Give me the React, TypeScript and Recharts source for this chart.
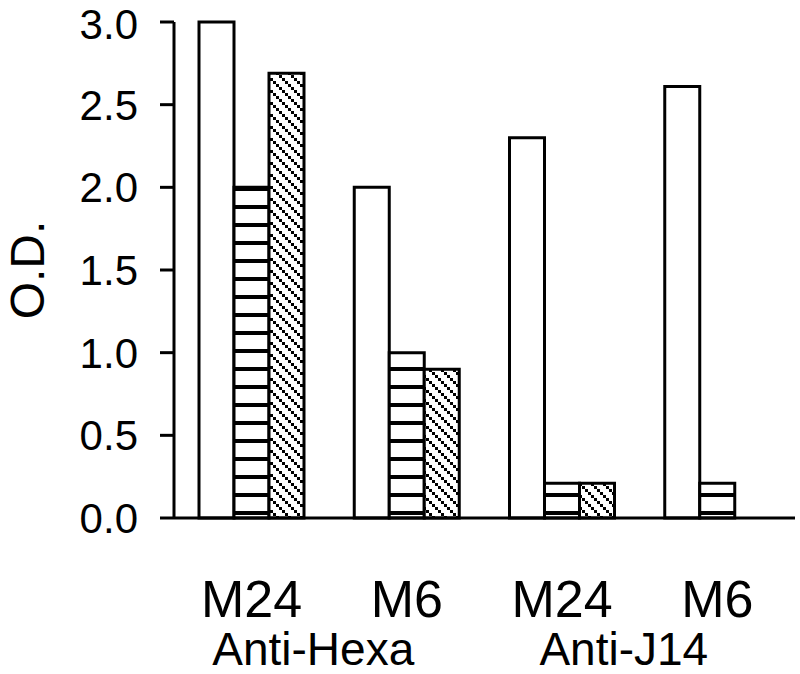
import React from 'react';
import { BarChart, Bar, XAxis, YAxis } from 'recharts';

const categories = ['M24', 'M6', 'M24', 'M6'];
const openValues = [3.0, 2.0, 2.3, 2.61];
const stripeValues = [2.0, 1.0, 0.21, 0.21];
const hatchValues: (number | null)[] = [2.69, 0.9, 0.21, null];
// group label shown under the first category of each pair
const groupLabelAt: (string | null)[] = ['Anti-Hexa', null, 'Anti-J14', null];
const yTicks = [0, 0.5, 1.0, 1.5, 2.0, 2.5, 3.0];

const data = categories.map((c, i) => ({
  cat: c,
  open: openValues[i],
  stripe: stripeValues[i],
  hatch: hatchValues[i],
}));

const FONT = '"Liberation Sans", Arial, sans-serif';

const CatTick = (props: any) => {
  const { x, y, payload, index } = props;
  const half = payload && typeof payload.offset === 'number' && payload.offset > 0 ? payload.offset : 77.6;
  const grp = groupLabelAt[index ?? payload.index];
  return (
    <g>
      <text x={x} y={y} dy={99} textAnchor="middle" fontSize={52} fontFamily={FONT} fill="#000">
        {payload.value}
      </text>
      {grp ? (
        <text x={x + half} y={y} dx={-16} dy={147} textAnchor="middle" fontSize={46} fontFamily={FONT} fill="#000">
          {grp}
        </text>
      ) : null}
    </g>
  );
};

export default function App() {
  return (
    <div style={{ position: 'absolute', left: 0, top: 0, width: 800, height: 674, background: '#fff' }}>
      <BarChart
        width={800}
        height={674}
        data={data}
        margin={{ top: 22, right: 5, bottom: 6, left: 0 }}
        barGap={0}
        barSize={35}
      >
        <defs>
          <pattern id="stripes" patternUnits="userSpaceOnUse" width={8} height={18}>
            <rect x={0} y={0} width={8} height={18} fill="#fff" />
            <rect x={0} y={7} width={8} height={4} fill="#000" shapeRendering="crispEdges" />
          </pattern>
          <pattern id="hatch" patternUnits="userSpaceOnUse" width={12} height={12}>
            <rect x={0} y={0} width={12} height={12} fill="#fff" />
            <rect x={0} y={0} width={3} height={3} fill="#000" shapeRendering="crispEdges" />
            <rect x={3} y={3} width={3} height={3} fill="#000" shapeRendering="crispEdges" />
            <rect x={6} y={6} width={3} height={3} fill="#000" shapeRendering="crispEdges" />
            <rect x={9} y={9} width={3} height={3} fill="#000" shapeRendering="crispEdges" />
          </pattern>
        </defs>
        <XAxis
          dataKey="cat"
          height={150}
          axisLine={{ stroke: '#000', strokeWidth: 3 }}
          tickLine={false}
          tickSize={0}
          tickMargin={0}
          tick={<CatTick />}
          interval={0}
        />
        <YAxis
          width={174}
          domain={[0, 3]}
          ticks={yTicks}
          tickFormatter={(v: number) => v.toFixed(1)}
          axisLine={{ stroke: '#000', strokeWidth: 3 }}
          tickLine={{ stroke: '#000', strokeWidth: 3 }}
          tickSize={14}
          tickMargin={22}
          tick={{ fontSize: 42, fontFamily: FONT, fill: '#000' }}
          label={{
            value: 'O.D.',
            angle: -90,
            position: 'insideLeft',
            offset: 27,
            style: { fontSize: 48, fontFamily: FONT, fill: '#000', textAnchor: 'middle' },
          }}
        />
        <Bar dataKey="open" fill="#fff" stroke="#000" strokeWidth={3} isAnimationActive={false} />
        <Bar dataKey="stripe" fill="url(#stripes)" stroke="#000" strokeWidth={3} isAnimationActive={false} />
        <Bar dataKey="hatch" fill="url(#hatch)" stroke="#000" strokeWidth={3} isAnimationActive={false} />
      </BarChart>
    </div>
  );
}
